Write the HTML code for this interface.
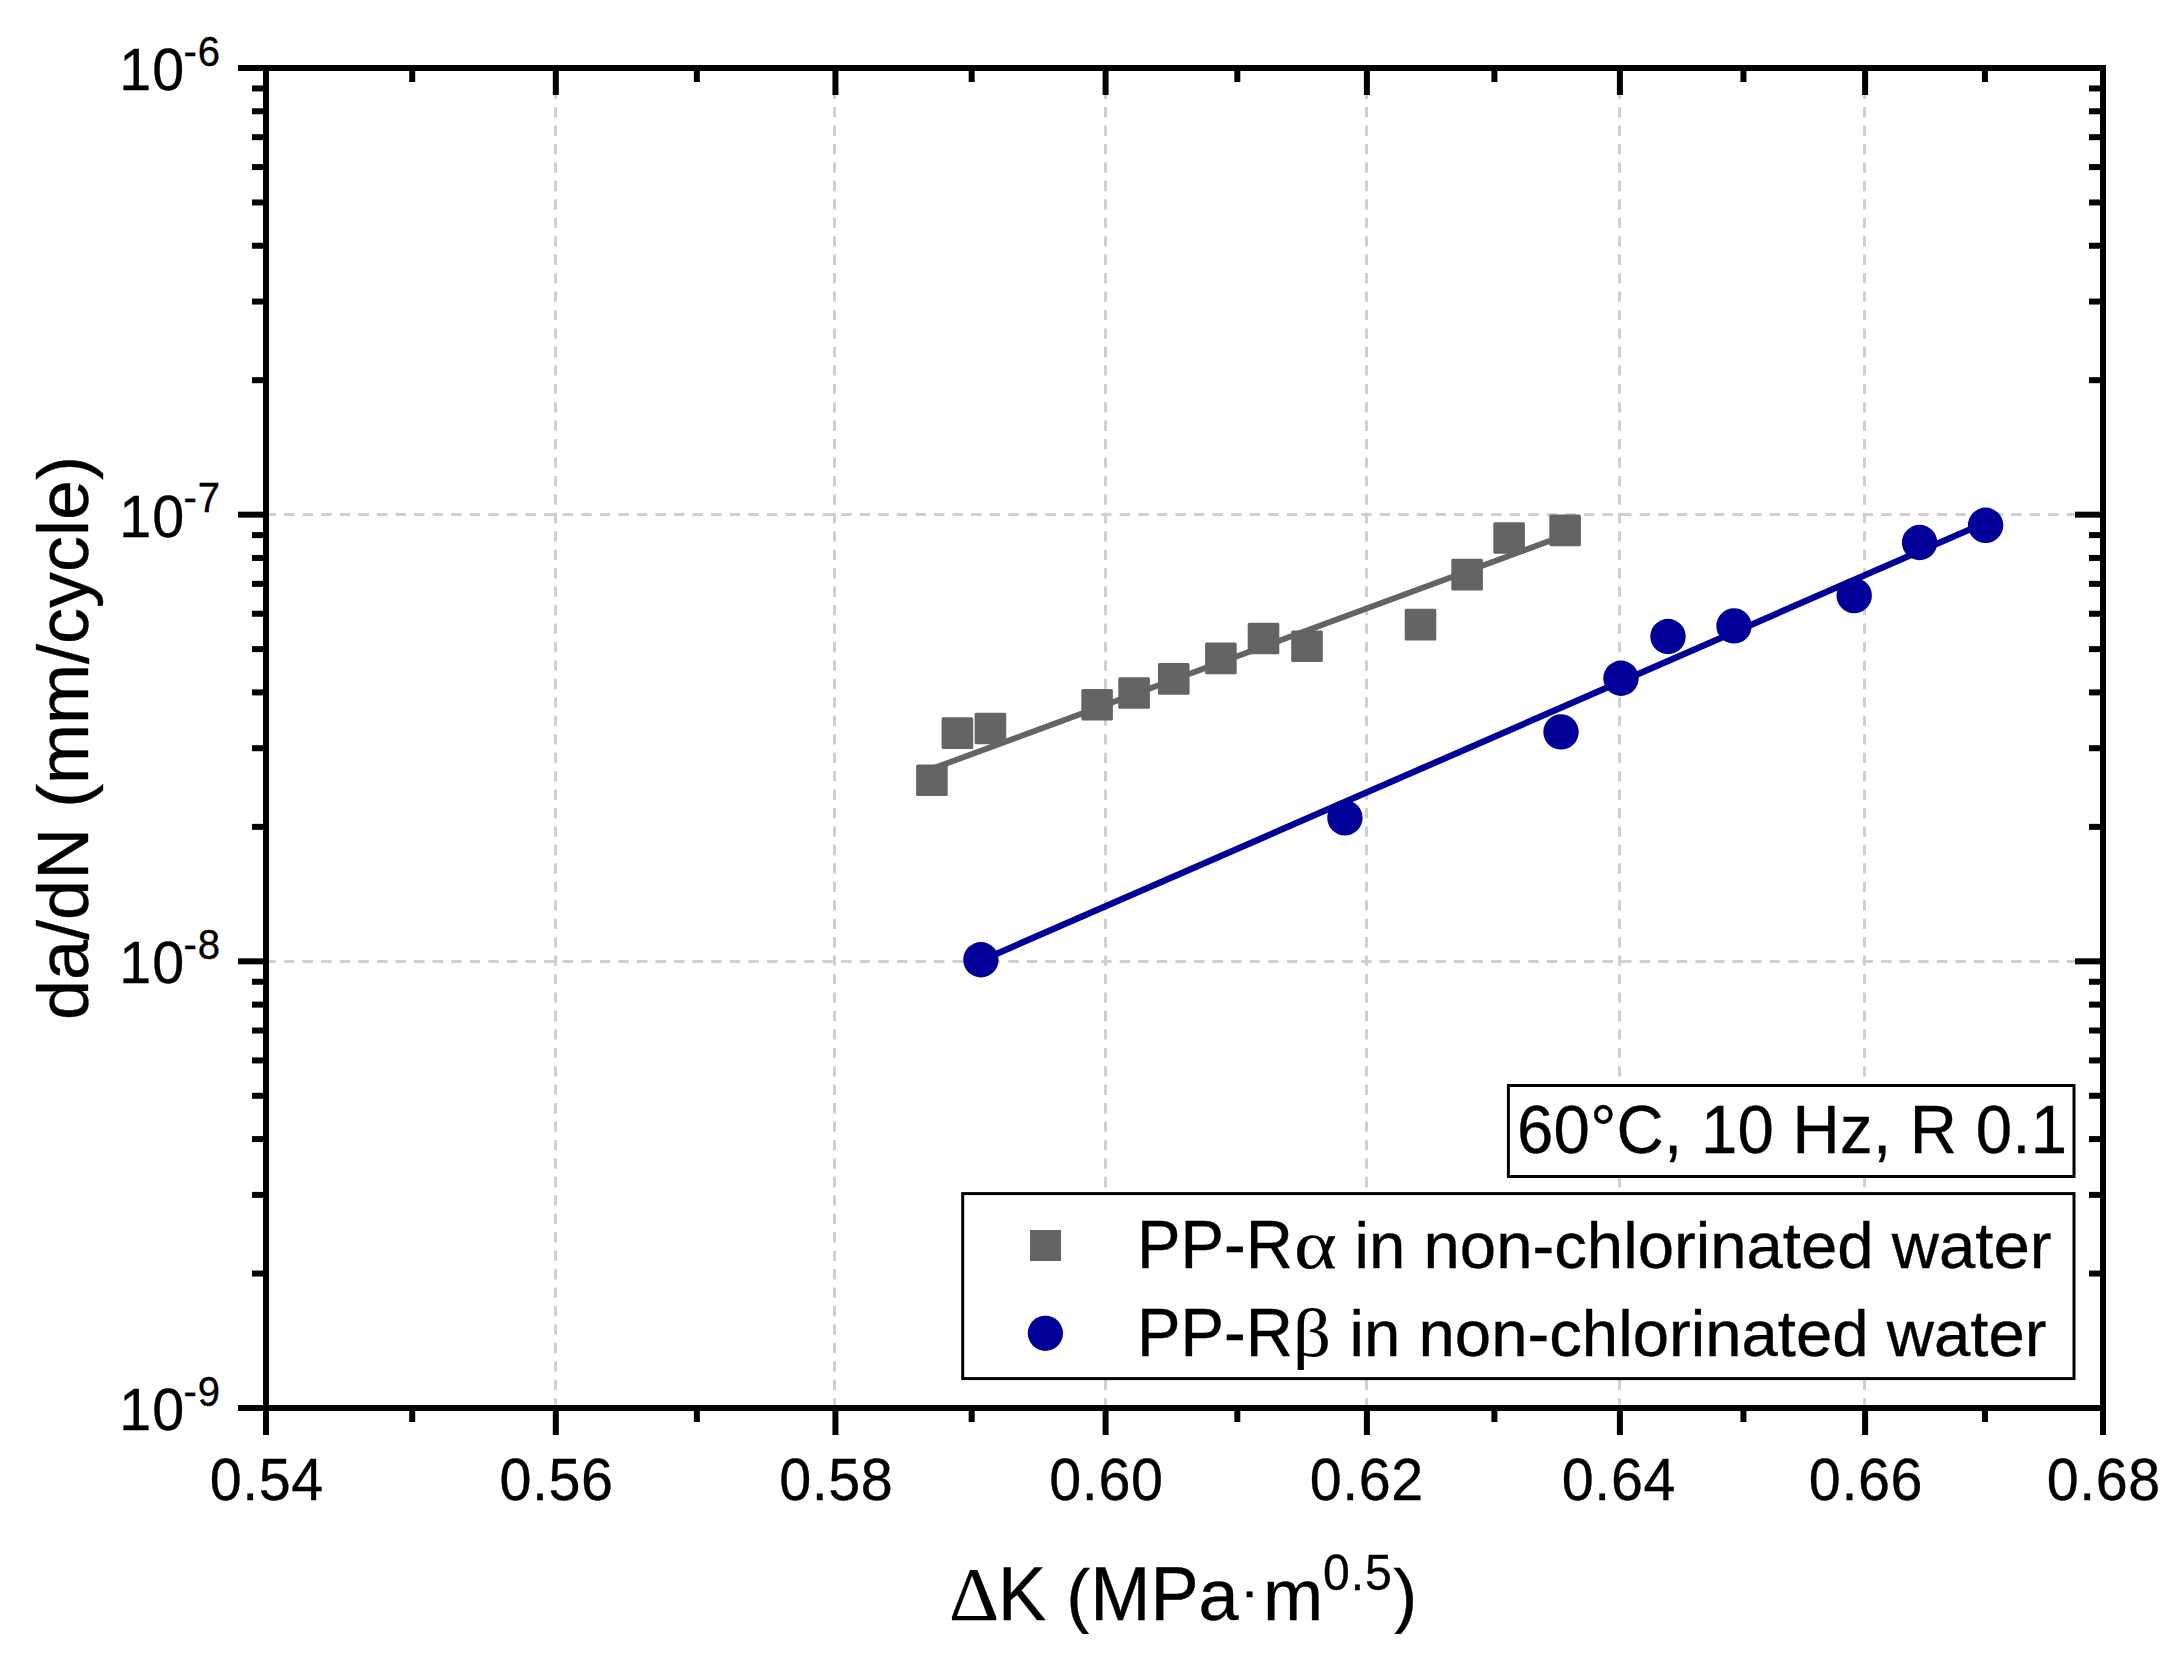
<!DOCTYPE html>
<html lang="en"><head><meta charset="utf-8"><title>da/dN vs ΔK</title>
<style>html,body{margin:0;padding:0;background:#fff}body{width:2184px;height:1672px;overflow:hidden}svg{display:block;position:absolute;left:0;top:0}text{font-family:"Liberation Sans",Arial,sans-serif;fill:#000;stroke:#000;stroke-width:0.35px}.sym{font-family:"Liberation Serif","DejaVu Serif",serif;stroke-width:0.15px}</style>
</head><body>
<svg width="2184" height="1672" viewBox="0 0 2184 1672">
<rect x="0" y="0" width="2184" height="1672" fill="#fff"/>
<g stroke="#d0d0d0" stroke-width="3" fill="none">
<line x1="555.5" y1="70.16" x2="555.5" y2="1408.0" stroke-dasharray="10.3 8.145"/>
<line x1="834.5" y1="70.16" x2="834.5" y2="1408.0" stroke-dasharray="10.3 8.145"/>
<line x1="1105.5" y1="70.16" x2="1105.5" y2="1408.0" stroke-dasharray="10.3 8.145"/>
<line x1="1366.5" y1="70.16" x2="1366.5" y2="1408.0" stroke-dasharray="10.3 8.145"/>
<line x1="1619.5" y1="70.16" x2="1619.5" y2="1408.0" stroke-dasharray="10.3 8.145"/>
<line x1="1864.5" y1="70.16" x2="1864.5" y2="1408.0" stroke-dasharray="10.3 8.145"/>
<line x1="265.5" y1="514.5" x2="2103.0" y2="514.5" stroke-dasharray="10.4 8.17"/>
<line x1="265.5" y1="961.5" x2="2103.0" y2="961.5" stroke-dasharray="10.4 8.17"/>
</g>
<line x1="932" y1="768.8" x2="1565" y2="535.3" stroke="#646464" stroke-width="5.9"/>
<line x1="981" y1="960.6" x2="1985.5" y2="522.6" stroke="#000099" stroke-width="6.4"/>
<g fill="#646464">
<rect x="916.10" y="764.45" width="31.6" height="31.6" rx="1.5"/>
<rect x="941.60" y="717.30" width="31.6" height="31.6" rx="1.5"/>
<rect x="974.60" y="712.70" width="31.6" height="31.6" rx="1.5"/>
<rect x="1081.30" y="688.95" width="31.6" height="31.6" rx="1.5"/>
<rect x="1118.30" y="677.20" width="31.6" height="31.6" rx="1.5"/>
<rect x="1157.95" y="663.10" width="31.6" height="31.6" rx="1.5"/>
<rect x="1205.10" y="642.60" width="31.6" height="31.6" rx="1.5"/>
<rect x="1247.70" y="622.70" width="31.6" height="31.6" rx="1.5"/>
<rect x="1291.20" y="630.45" width="31.6" height="31.6" rx="1.5"/>
<rect x="1404.70" y="608.80" width="31.6" height="31.6" rx="1.5"/>
<rect x="1451.30" y="558.80" width="31.6" height="31.6" rx="1.5"/>
<rect x="1493.30" y="522.20" width="31.6" height="31.6" rx="1.5"/>
<rect x="1549.30" y="514.60" width="31.6" height="31.6" rx="1.5"/>
</g>
<g fill="#000099">
<circle cx="980.90" cy="959.75" r="17.7"/>
<circle cx="1344.90" cy="817.80" r="17.7"/>
<circle cx="1561.00" cy="731.90" r="17.7"/>
<circle cx="1621.00" cy="678.25" r="17.7"/>
<circle cx="1668.00" cy="636.50" r="17.7"/>
<circle cx="1734.00" cy="625.90" r="17.7"/>
<circle cx="1854.20" cy="595.60" r="17.7"/>
<circle cx="1919.60" cy="542.50" r="17.7"/>
<circle cx="1985.60" cy="525.30" r="17.7"/>
</g>
<g stroke="#000" stroke-width="6" fill="none" stroke-linecap="butt">
<path d="M238.0 68.0 H2106.0"/>
<path d="M238.0 1408.0 H2106.0"/>
<path d="M266.0 65.0 V1435.0"/>
<path d="M2103.0 65.0 V1435.0"/>
<path d="M412.22 1408.0 V1422.0"/>
<path d="M412.22 68.0 V82.0"/>
<path d="M555.81 1408.0 V1435.0"/>
<path d="M555.81 68.0 V95.0"/>
<path d="M696.85 1408.0 V1422.0"/>
<path d="M696.85 68.0 V82.0"/>
<path d="M835.44 1408.0 V1435.0"/>
<path d="M835.44 68.0 V95.0"/>
<path d="M971.67 1408.0 V1422.0"/>
<path d="M971.67 68.0 V82.0"/>
<path d="M1105.60 1408.0 V1435.0"/>
<path d="M1105.60 68.0 V95.0"/>
<path d="M1237.32 1408.0 V1422.0"/>
<path d="M1237.32 68.0 V82.0"/>
<path d="M1366.89 1408.0 V1435.0"/>
<path d="M1366.89 68.0 V95.0"/>
<path d="M1494.40 1408.0 V1422.0"/>
<path d="M1494.40 68.0 V82.0"/>
<path d="M1619.89 1408.0 V1435.0"/>
<path d="M1619.89 68.0 V95.0"/>
<path d="M1743.44 1408.0 V1422.0"/>
<path d="M1743.44 68.0 V82.0"/>
<path d="M1865.11 1408.0 V1435.0"/>
<path d="M1865.11 68.0 V95.0"/>
<path d="M1984.94 1408.0 V1422.0"/>
<path d="M1984.94 68.0 V82.0"/>
<path d="M238.0 514.67 H266.0"/>
<path d="M2075.0 514.67 H2103.0"/>
<path d="M252.0 380.21 H266.0"/>
<path d="M2089.0 380.21 H2103.0"/>
<path d="M252.0 301.55 H266.0"/>
<path d="M2089.0 301.55 H2103.0"/>
<path d="M252.0 245.75 H266.0"/>
<path d="M2089.0 245.75 H2103.0"/>
<path d="M252.0 202.46 H266.0"/>
<path d="M2089.0 202.46 H2103.0"/>
<path d="M252.0 167.09 H266.0"/>
<path d="M2089.0 167.09 H2103.0"/>
<path d="M252.0 137.19 H266.0"/>
<path d="M2089.0 137.19 H2103.0"/>
<path d="M252.0 111.29 H266.0"/>
<path d="M2089.0 111.29 H2103.0"/>
<path d="M252.0 88.44 H266.0"/>
<path d="M2089.0 88.44 H2103.0"/>
<path d="M238.0 961.33 H266.0"/>
<path d="M2075.0 961.33 H2103.0"/>
<path d="M252.0 826.87 H266.0"/>
<path d="M2089.0 826.87 H2103.0"/>
<path d="M252.0 748.22 H266.0"/>
<path d="M2089.0 748.22 H2103.0"/>
<path d="M252.0 692.41 H266.0"/>
<path d="M2089.0 692.41 H2103.0"/>
<path d="M252.0 649.13 H266.0"/>
<path d="M2089.0 649.13 H2103.0"/>
<path d="M252.0 613.76 H266.0"/>
<path d="M2089.0 613.76 H2103.0"/>
<path d="M252.0 583.86 H266.0"/>
<path d="M2089.0 583.86 H2103.0"/>
<path d="M252.0 557.95 H266.0"/>
<path d="M2089.0 557.95 H2103.0"/>
<path d="M252.0 535.11 H266.0"/>
<path d="M2089.0 535.11 H2103.0"/>
<path d="M252.0 1273.54 H266.0"/>
<path d="M2089.0 1273.54 H2103.0"/>
<path d="M252.0 1194.89 H266.0"/>
<path d="M2089.0 1194.89 H2103.0"/>
<path d="M252.0 1139.08 H266.0"/>
<path d="M2089.0 1139.08 H2103.0"/>
<path d="M252.0 1095.79 H266.0"/>
<path d="M2089.0 1095.79 H2103.0"/>
<path d="M252.0 1060.43 H266.0"/>
<path d="M2089.0 1060.43 H2103.0"/>
<path d="M252.0 1030.52 H266.0"/>
<path d="M2089.0 1030.52 H2103.0"/>
<path d="M252.0 1004.62 H266.0"/>
<path d="M2089.0 1004.62 H2103.0"/>
<path d="M252.0 981.77 H266.0"/>
<path d="M2089.0 981.77 H2103.0"/>
</g>
<text><tspan x="209.75" y="1500.20" font-size="59.74" textLength="114.10" lengthAdjust="spacingAndGlyphs" letter-spacing="0.6">0.54</tspan></text>
<text><tspan x="499.56" y="1500.20" font-size="59.74" textLength="114.10" lengthAdjust="spacingAndGlyphs" letter-spacing="0.6">0.56</tspan></text>
<text><tspan x="779.19" y="1500.20" font-size="59.74" textLength="114.10" lengthAdjust="spacingAndGlyphs" letter-spacing="0.6">0.58</tspan></text>
<text><tspan x="1049.35" y="1500.20" font-size="59.74" textLength="114.10" lengthAdjust="spacingAndGlyphs" letter-spacing="0.6">0.60</tspan></text>
<text><tspan x="1309.74" y="1500.20" font-size="59.74" textLength="114.10" lengthAdjust="spacingAndGlyphs" letter-spacing="0.6">0.62</tspan></text>
<text><tspan x="1561.84" y="1500.20" font-size="59.74" textLength="114.10" lengthAdjust="spacingAndGlyphs" letter-spacing="0.6">0.64</tspan></text>
<text><tspan x="1808.86" y="1500.20" font-size="59.74" textLength="114.10" lengthAdjust="spacingAndGlyphs" letter-spacing="0.6">0.66</tspan></text>
<text><tspan x="2046.75" y="1500.20" font-size="59.74" textLength="114.10" lengthAdjust="spacingAndGlyphs" letter-spacing="0.6">0.68</tspan></text>
<text><tspan x="119.30" y="90.00" font-size="59.74" textLength="65.84" lengthAdjust="spacingAndGlyphs" letter-spacing="1">10</tspan><tspan x="183.40" y="65.50" font-size="41.63" textLength="37.58" lengthAdjust="spacingAndGlyphs" letter-spacing="1">-6</tspan></text>
<text><tspan x="119.30" y="536.67" font-size="59.74" textLength="65.84" lengthAdjust="spacingAndGlyphs" letter-spacing="1">10</tspan><tspan x="183.40" y="512.17" font-size="41.63" textLength="37.58" lengthAdjust="spacingAndGlyphs" letter-spacing="1">-7</tspan></text>
<text><tspan x="119.30" y="983.33" font-size="59.74" textLength="65.84" lengthAdjust="spacingAndGlyphs" letter-spacing="1">10</tspan><tspan x="183.40" y="958.83" font-size="41.63" textLength="37.58" lengthAdjust="spacingAndGlyphs" letter-spacing="1">-8</tspan></text>
<text><tspan x="119.30" y="1430.00" font-size="59.74" textLength="65.84" lengthAdjust="spacingAndGlyphs" letter-spacing="1">10</tspan><tspan x="183.40" y="1405.50" font-size="41.63" textLength="37.58" lengthAdjust="spacingAndGlyphs" letter-spacing="1">-9</tspan></text>
<text transform="translate(88.1,1020) rotate(-90)" font-size="72">da/dN (mm/cycle)</text>
<text><tspan x="948.90" y="1619.75" font-size="75.74" textLength="50.02" lengthAdjust="spacingAndGlyphs" class="sym">Δ</tspan><tspan x="998.00" y="1619.75" font-size="75.14" textLength="48.16" lengthAdjust="spacingAndGlyphs">K</tspan><tspan x="1046.16" y="1619.75" font-size="72.2"> (</tspan><tspan x="1090.27" y="1619.75" font-size="75.14" textLength="108.28" lengthAdjust="spacingAndGlyphs">MP</tspan><tspan x="1198.57" y="1619.75" font-size="72.2">a</tspan><tspan x="1240.20" y="1607.90" font-size="47.60" textLength="18.66" lengthAdjust="spacingAndGlyphs">·</tspan><tspan x="1263.10" y="1619.75" font-size="72.2">m</tspan><tspan x="1323.10" y="1590.00" font-size="49.95" textLength="69.73" lengthAdjust="spacingAndGlyphs" letter-spacing="1">0.5</tspan><tspan x="1393.30" y="1619.75" font-size="72.2">)</tspan></text>
<rect x="1508.4" y="1085.5" width="565.6" height="91" fill="#fff" stroke="#000" stroke-width="3"/>
<text><tspan x="1517.00" y="1152.80" font-size="67.96" textLength="550.33" lengthAdjust="spacingAndGlyphs" letter-spacing="0.29">60°C, 10 Hz, R 0.1</tspan></text>
<rect x="962.7" y="1193.6" width="1111.3" height="185" fill="#fff" stroke="#000" stroke-width="3"/>
<rect x="1030" y="1230" width="31" height="31" fill="#646464"/>
<circle cx="1045.4" cy="1333.3" r="17.6" fill="#000099"/>
<text><tspan x="1137.00" y="1267.80" font-size="67.96" textLength="156.02" lengthAdjust="spacingAndGlyphs">PP-R</tspan><tspan x="1294.00" y="1267.80" font-size="70.52" textLength="42.77" lengthAdjust="spacingAndGlyphs" class="sym">α</tspan><tspan x="1336.40" y="1267.80" font-size="65.3"> in non-chlorinated water</tspan></text>
<text><tspan x="1137.00" y="1356.00" font-size="67.96" textLength="156.02" lengthAdjust="spacingAndGlyphs">PP-R</tspan><tspan x="1293.10" y="1356.00" font-size="68.24" textLength="37.89" lengthAdjust="spacingAndGlyphs" class="sym">β</tspan><tspan x="1331.40" y="1356.00" font-size="65.3"> in non-chlorinated water</tspan></text>
<rect x="940" y="1634" width="480" height="5" fill="#fff"/>
</svg>
</body></html>
